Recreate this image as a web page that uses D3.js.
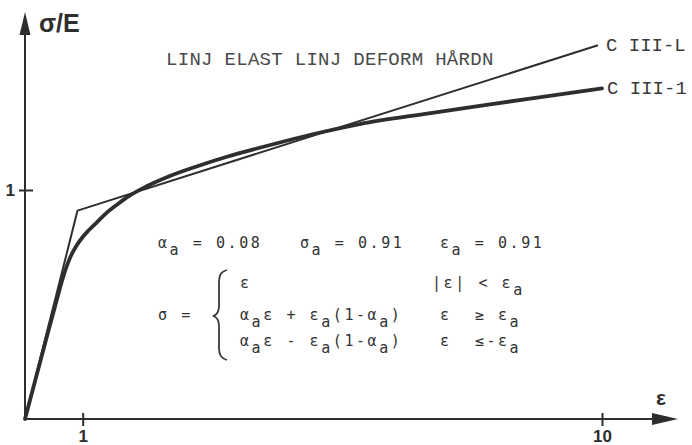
<!DOCTYPE html>
<html>
<head>
<meta charset="utf-8">
<script src="https://cdn.jsdelivr.net/npm/d3@7"></script>
<style>
  html, body { margin: 0; padding: 0; background: #fff; }
  svg { display: block; }
</style>
</head>
<body>
<svg id="chart" width="692" height="445"></svg>
<script>
// Bilinear model C III-L (strain ε, stress σ/E)
const linEps = [0, 0.91, 9.93];
const linSig = [0, 0.91, 1.632];

// Measured curve C III-1
const curEps = [0, 0.2, 0.4, 0.55, 0.65, 0.72, 0.8, 0.9, 1.0, 1.1, 1.25, 1.4, 1.6, 1.8,
                2.1, 2.5, 3.0, 3.5, 4.0, 4.5, 5.1, 5.8, 7.0, 8.0, 9.0, 10.0];
const curSig = [0, 0.19, 0.38, 0.52, 0.61, 0.665, 0.715, 0.76, 0.795, 0.823, 0.86, 0.897, 0.937, 0.973,
                1.015, 1.06, 1.105, 1.145, 1.18, 1.213, 1.25, 1.288, 1.335, 1.372, 1.408, 1.444];

const xTicks = [1, 10];
const yTicks = [1];
const seriesNames = ["C III-L", "C III-1"];
const title = "LINJ ELAST LINJ DEFORM HÅRDN";

const ink = "#2e2e2e";
const svg = d3.select("#chart");

const x = d3.scaleLinear().domain([0, 10]).range([25, 602]);
const y = d3.scaleLinear().domain([0, 1]).range([419, 190]);

// Axes with arrow heads
const axisEndX = 678, axisEndY = 12;
svg.append("line").attr("x1", x(0)).attr("y1", y(0)).attr("x2", axisEndX - 20).attr("y2", y(0))
  .attr("stroke", ink).attr("stroke-width", 2);
svg.append("line").attr("x1", x(0)).attr("y1", y(0) + 1).attr("x2", x(0)).attr("y2", axisEndY + 18)
  .attr("stroke", ink).attr("stroke-width", 2);
svg.append("path")
  .attr("d", `M${axisEndX},${y(0)} L${axisEndX - 26},${y(0) - 6} L${axisEndX - 26},${y(0) + 6} Z`)
  .attr("fill", ink);
svg.append("path")
  .attr("d", `M${x(0)},${axisEndY} L${x(0) - 5.5},${axisEndY + 23} L${x(0) + 5.5},${axisEndY + 23} Z`)
  .attr("fill", ink);

// Tick marks crossing the axes
const gx = svg.append("g").attr("transform", `translate(0,${y(0)})`)
  .call(d3.axisBottom(x).tickValues(xTicks).tickSize(7).tickFormat(d3.format("d")));
gx.select(".domain").remove();
gx.selectAll(".tick line").attr("y1", -6).attr("y2", 7).attr("stroke", ink).attr("stroke-width", 2);
gx.selectAll(".tick text").attr("y", 11).attr("dy", "0.71em")
  .attr("font-family", "'Liberation Sans', Arial, sans-serif").attr("font-weight", "bold")
  .attr("font-size", 17).attr("fill", ink);

const gy = svg.append("g").attr("transform", `translate(${x(0)},0)`)
  .call(d3.axisLeft(y).tickValues(yTicks).tickSize(6).tickFormat(d3.format("d")));
gy.select(".domain").remove();
gy.selectAll(".tick line").attr("x1", -6).attr("x2", 8).attr("stroke", ink).attr("stroke-width", 2);
gy.selectAll(".tick text").attr("x", -10).attr("dy", "0.35em")
  .attr("font-family", "'Liberation Sans', Arial, sans-serif").attr("font-weight", "bold")
  .attr("font-size", 17).attr("fill", ink);

// Axis titles
svg.append("text").attr("x", 39).attr("y", 32).text("σ/E")
  .attr("font-family", "'Liberation Sans', Arial, sans-serif").attr("font-weight", "bold")
  .attr("font-size", 25).attr("fill", ink);
svg.append("text").attr("x", 656).attr("y", 405).text("ε")
  .attr("font-family", "'Liberation Sans', Arial, sans-serif").attr("font-weight", "bold")
  .attr("font-size", 21).attr("fill", ink);

// Curves
const linPts = linEps.map((e, i) => [e, linSig[i]]);
const curPts = curEps.map((e, i) => [e, curSig[i]]);
svg.append("path").datum(linPts)
  .attr("d", d3.line().x(d => x(d[0])).y(d => y(d[1])))
  .attr("fill", "none").attr("stroke", ink).attr("stroke-width", 2).attr("stroke-linejoin", "round");
svg.append("path").datum(curPts)
  .attr("d", d3.line().curve(d3.curveMonotoneX).x(d => x(d[0])).y(d => y(d[1])))
  .attr("fill", "none").attr("stroke", ink).attr("stroke-width", 3.8).attr("stroke-linecap", "round");

// Series labels at the right-hand ends
const typeFont = "'Liberation Mono', 'Courier New', monospace";
const labelEnds = [linPts[linPts.length - 1], curPts[curPts.length - 1]];
seriesNames.forEach((name, i) => {
  svg.append("text").attr("x", x(labelEnds[i][0]) + 8 - (i === 0 ? 0 : 3)).attr("y", y(labelEnds[i][1]) + 6)
    .text(name).attr("font-family", typeFont).attr("font-size", 19).attr("fill", "#3a3a3a");
});

svg.append("text").attr("x", 166).attr("y", 65).text(title)
  .attr("font-family", typeFont).attr("font-size", 19).attr("letter-spacing", 0.3).attr("fill", "#4a4a4a");

// Model equations, typed on a fixed character grid; "_" marks a subscript character
const adv = 11.6;
const eqFont = "'DejaVu Sans Mono', monospace";
const eqRuns = [
  [158, 248, "α_a = 0.08"], [300, 248, "σ_a = 0.91"], [440, 248, "ε_a = 0.91"],
  [240, 288, "ε"], [432, 288, "|ε| < ε_a"],
  [158, 320, "σ ="], [240, 320, "α_aε + ε_a(1-α_a)"], [440, 320, "ε  ≥ ε_a"],
  [240, 346, "α_aε - ε_a(1-α_a)"], [440, 346, "ε  ≤-ε_a"]
];
eqRuns.forEach(([x0, base, s]) => {
  let col = 0, sub = false;
  for (const ch of s) {
    if (ch === "_") { sub = true; continue; }
    if (ch !== " ") {
      svg.append("text").attr("x", x0 + col * adv).attr("y", base + (sub ? 7 : 0))
        .text(ch).attr("font-family", eqFont).attr("font-size", 15).attr("fill", "#333");
    }
    col += 1; sub = false;
  }
});

// Brace grouping the three cases
svg.append("path")
  .attr("d", "M227,270 C220,272 219,276 219,284 L219,306 C219,312 217,315 213,316 C217,317 219,320 219,326 L219,348 C219,355 221,358 227,360")
  .attr("fill", "none").attr("stroke", "#3a3a3a").attr("stroke-width", 1.8);
</script>
</body>
</html>
